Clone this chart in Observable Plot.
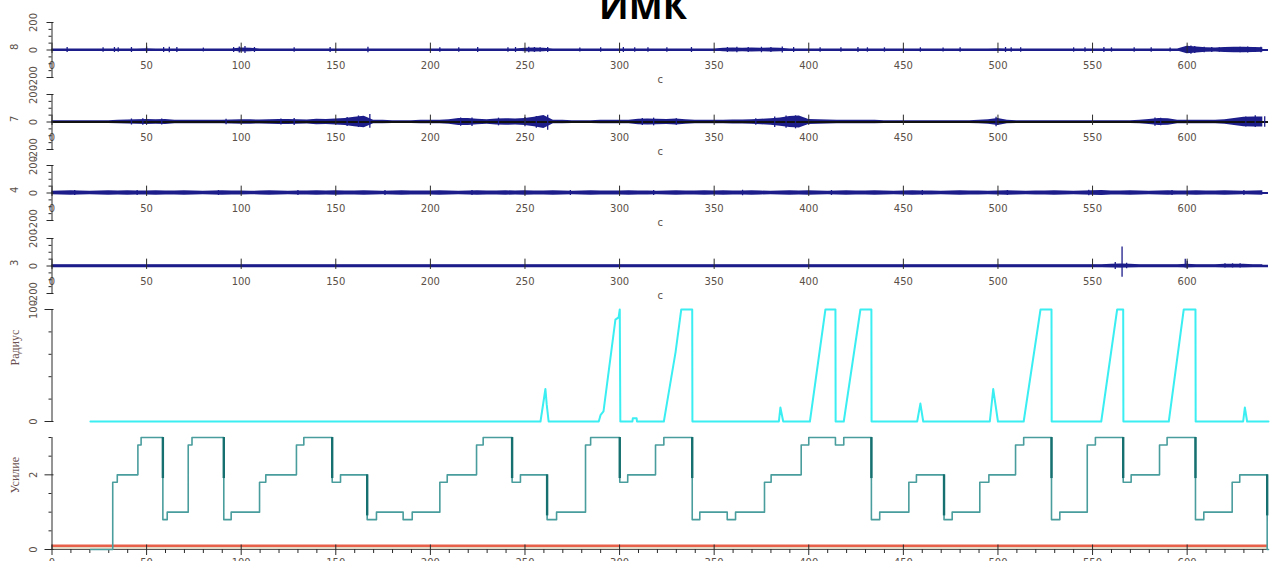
<!DOCTYPE html>
<html><head><meta charset="utf-8">
<script src="https://cdn.jsdelivr.net/npm/d3@7"></script>
<script src="https://cdn.jsdelivr.net/npm/@observablehq/plot@0.6"></script>
<style>
html,body{margin:0;padding:0;background:#fff}
body{width:1270px;height:561px;overflow:hidden;position:relative;font-family:"DejaVu Sans",sans-serif}
#title{position:absolute;left:0;width:1286px;top:-12px;text-align:center;font:bold 36px/36px "Open Sans",sans-serif;color:#000}
.panel{position:absolute;left:0}
.panel svg{overflow:visible}
</style></head><body>
<div id="title">ИМК</div>
<script>
// ---------- data ----------
const xDomain = [0, 643];
const emgXTicks = [0, 50, 100, 150, 200, 250, 300, 350, 400, 450, 500, 550, 600];
const emgYMajor = [-200, 0, 200];
const emgYMinor = [-150, -100, -50, 50, 100, 150];
const envStep = 5; // seconds between envelope samples
const channelLabels = ["8", "7", "4", "3"];

// noise envelope (half-amplitude) every 5 s, t = 0..640
const ch8Env = [
  8,8,8,8,8,8,8,8,8,8,
  10,8,8,8,8,8,8,8,8,8,
  14,12,8,8,8,8,8,8,8,8,
  8,8,8,8,8,8,8,8,8,8,
  8,8,8,8,8,8,8,8,8,8,
  12,14,12,8,8,8,8,8,8,8,
  8,8,8,8,8,8,8,8,8,8,
  8,12,14,12,14,12,14,12,8,8,
  8,8,8,8,8,8,8,8,8,8,
  8,8,8,8,8,8,8,8,8,8,
  10,8,8,8,8,8,8,8,8,8,
  8,8,8,8,8,8,8,8,8,8,
  28,22,16,14,18,20,20,18,16];
const ch7Env = [
  10,10,10,10,10,10,10,12,14,16,
  18,16,18,13,12,12,12,12,13,14,
  16,16,14,16,18,18,16,14,20,18,
  22,26,34,42,13,12,10,10,10,12,
  12,12,16,26,26,20,16,22,24,22,
  26,34,48,13,12,10,10,10,12,12,
  12,13,20,22,20,18,22,16,12,12,
  12,13,14,14,16,20,24,30,40,44,
  18,16,14,13,12,12,12,12,10,10,
  10,10,10,10,10,10,10,10,12,16,
  26,12,10,10,10,10,10,10,10,10,
  10,10,10,10,10,12,18,26,24,12,
  12,12,12,12,16,26,34,36,36];
const ch4Env = [
  12,14,16,14,12,14,16,14,16,14,
  14,16,14,14,16,14,12,14,16,14,
  14,12,14,16,14,12,14,14,16,14,
  16,14,14,16,14,12,14,16,14,14,
  14,16,14,12,14,16,14,14,16,14,
  16,14,14,16,14,12,14,16,14,14,
  14,16,14,14,12,14,16,14,14,16,
  14,16,14,14,16,14,12,14,16,14,
  16,14,12,14,16,14,14,16,14,12,
  14,16,14,14,12,14,16,14,14,12,
  14,16,14,12,14,14,16,14,12,14,
  16,18,14,14,16,14,12,14,16,14,
  14,16,14,14,16,14,12,14,16];
const ch3Env = [
  10,10,10,10,10,10,10,10,10,10,
  10,10,10,10,10,10,10,10,10,10,
  10,10,10,10,10,10,10,10,10,10,
  10,10,10,10,10,10,10,10,10,10,
  10,10,10,10,10,10,10,10,10,10,
  10,10,10,10,10,10,10,10,10,10,
  10,10,10,10,10,10,10,10,10,10,
  10,10,10,10,10,10,10,10,10,10,
  10,10,10,10,10,10,10,10,10,10,
  10,10,10,10,10,10,10,10,10,10,
  10,10,10,10,10,10,10,10,10,10,
  10,10,12,14,12,10,10,10,10,10,
  12,10,10,10,12,12,12,10,10];

// isolated bursts [t, low, high]
const ch8Spikes = [
  [8,-18,18],[27,-16,16],[33,-18,18],[35,-16,16],[42,-18,18],[50,-22,22],[59,-18,18],[62,-20,20],
  [66,-18,18],[80,-14,14],[96,-18,18],[99,-22,22],[102,-26,26],[107,-18,18],[128,-16,16],[147,-18,18],
  [167,-20,20],[205,-16,16],[215,-16,16],[225,-18,18],[241,-16,16],[245,-18,18],[252,-20,20],[255,-18,18],
  [258,-16,16],[262,-18,18],[279,-14,14],[290,-16,16],[302,-18,18],[308,-16,16],[315,-16,16],[325,-16,16],
  [338,-18,18],[357,-18,18],[362,-20,20],[368,-18,18],[375,-20,20],[380,-18,18],[386,-22,22],[392,-18,18],
  [406,-16,16],[417,-16,16],[426,-18,18],[431,-16,16],[440,-16,16],[459,-16,16],[471,-14,14],[480,-16,16],
  [504,-18,18],[507,-16,16],[512,-16,16],[540,-16,16],[546,-16,16],[556,-18,18],[560,-16,16],[572,-16,16],
  [581,-16,16],[591,-14,14],[600,-26,26],[602,-30,30],[604,-26,26],[609,-20,20],[613,-18,18],[617,-16,16],
  [624,-18,18],[628,-20,20],[632,-22,22],[636,-18,18],[639,-20,20]];
const ch7Spikes = [[42,-22,22],[48,-24,24],[58,-22,22],[92,-20,20],[121,-22,22],[128,-26,26],[156,-32,32],
  [162,-40,44],[168,-45,55],[216,-30,30],[222,-32,30],[236,-28,28],[250,-34,32],[256,-45,40],[262,-60,50],
  [312,-26,26],[318,-28,28],[330,-24,24],[372,-24,24],[382,-40,36],[388,-46,44],[393,-50,45],[499,-35,35],
  [583,-30,30],[586,-28,28],[631,-36,36],[636,-40,45],[641,-38,38]];
const ch4Spikes = [[12,-18,18],[45,-18,18],[88,-18,18],[130,-18,18],[176,-18,18],[222,-18,18],
  [274,-18,18],[318,-18,18],[365,-20,20],[412,-18,18],[460,-18,18],[505,-18,18],[548,-20,20],[592,-18,18],[630,-18,18]];
const ch3Spikes = [[562,-25,25],[565.6,-81,138],[568,-20,20],[599,-14,50],[600,-20,35],[620,-14,16],[624,-14,16],[628,-14,16]];

// Радиус (radius) trace: [t, value]
const radiusT = [20.3,258.2,260.8,261.5,262.5,289.0,290,291.5,297.8,299.5,300.1,300.4,306.8,307,309,309.2,
  323.4,325.2,329.6,332.6,338.4,338.5,384.2,385,386.5,400.6,408.8,414.1,414.2,418.5,427.3,433.1,433.2,
  457.3,459,460.5,495.7,497.5,500,513.6,522.5,528.3,528.4,554.6,563,566.2,566.3,590.3,598.2,604.4,604.5,
  629.6,630.5,631.7,643];
const radiusV = [0,0,29,15,0,0,6,9,91,93,100,0,0,3,3,0,
  0,18,62,100,100,0,0,12.5,0,0,100,100,0,0,100,100,0,
  0,16,0,0,29,0,0,100,100,0,0,100,100,0,0,100,100,0,
  0,12.5,0,0];
const radiusTicks = [0, 100];
const radiusMinor = [20, 40, 60, 80];

// Усилие (force) steps: [t, value] (step-after)
const forceT = [20.3,32.1,34.5,45.4,47.1,58.6,60.9,72.0,74.0,90.8,94.7,109.7,113.0,129.2,133.1,148.1,152.5,
  166.6,171.5,185.6,190.4,205.0,208.9,224.4,227.9,243.2,247.6,261.7,266.7,282.0,284.7,300.1,304.3,319.0,
  323.4,338.4,342.4,356.9,361.3,376.6,380.1,396.0,400.0,414.1,418.5,433.1,437.5,452.9,456.9,471.5,475.8,
  490.4,495.2,509.3,513.6,528.3,532.7,547.2,551.5,566.2,570.4,585.4,589.4,604.4,608.8,623.8,627.8,642.3,643];
const forceV = [0,1.8,2.0,2.8,3.0,0.8,1.0,2.8,3.0,0.8,1.0,1.8,2.0,2.8,3.0,1.8,2.0,
  0.8,1.0,0.8,1.0,1.8,2.0,2.8,3.0,1.8,2.0,0.8,1.0,2.8,3.0,1.8,2.0,2.8,
  3.0,0.8,1.0,0.8,1.0,1.8,2.0,2.8,3.0,2.8,3.0,0.8,1.0,1.8,2.0,0.8,1.0,
  1.8,2.0,2.8,3.0,0.8,1.0,2.8,3.0,1.8,2.0,2.8,3.0,0.8,1.0,1.8,2.0,0,0];
const forceThreshold = [0.1];
const forceBase = [0.04];
const forceTicks = [0, 2];
const forceMinor = [0.5, 1, 1.5, 2.5, 3];
const bottomMajor = [0,50,100,150,200,250,300,350,400,450,500,550,600];
const bottomMinor = d3.range(10, 643, 10).filter(v => v % 50 !== 0);

// ---------- drawing ----------
const W = 1270, ML = 51.5, MR = 2;
const NAVY = "#1c1c8a", AX = "#2a2a2a", TXT = "#5a5048";

function mount(top, node) {
  const d = document.createElement("div");
  d.className = "panel"; d.style.top = top + "px";
  d.appendChild(node); document.body.appendChild(d);
}
function frame(height, mt, mb, yDomain, marks) {
  return Plot.plot({
    width: W, height, marginLeft: ML, marginRight: MR, marginTop: mt, marginBottom: mb,
    x: {domain: xDomain, axis: null}, y: {domain: yDomain, axis: null},
    style: {fontFamily: "DejaVu Sans", fontSize: "10px", overflow: "visible", background: "transparent"},
    marks
  });
}
const noFmt = () => "";
function emg(top, height, mt, mb, label, env, spikes, black, lw) {
  const envData = env.map((a, i) => ({t: i * envStep, a}));
  const marks = [
    Plot.areaY(envData, {x: "t", y1: d => -d.a, y2: d => d.a, fill: NAVY, curve: "linear"}),
    Plot.ruleY([0], {stroke: black ? "#111" : NAVY, strokeWidth: lw}),
    Plot.ruleX(spikes, {x: d => d[0], y1: d => d[1], y2: d => d[2], stroke: NAVY, strokeWidth: 1.3}),
    Plot.ruleX(emgXTicks, {y1: -25, y2: 50, stroke: AX}),
    Plot.text(emgXTicks, {x: d => d, y: 0, dy: 15.5, text: d => String(d), fill: TXT, fontSize: 10}),
    Plot.text(["c"], {frameAnchor: "bottom", lineAnchor: "top", dy: -2, fill: TXT, fontSize: 10}),
    Plot.ruleX([0], {y1: -200, y2: 200, stroke: AX}),
    Plot.axisY(emgYMinor, {tickSize: 3, tickFormat: noFmt, stroke: AX, label: null}),
    Plot.axisY(emgYMajor, {tickSize: 7, dx: 2, tickFormat: noFmt, stroke: AX, label: null}),
    Plot.text(emgYMajor, {x: 0, y: d => d, text: d => String(d), rotate: -90, dx: -18, fill: TXT, fontSize: 10}),
    Plot.text([label], {frameAnchor: "left", dx: -37.5, rotate: -90, fill: TXT, fontSize: 10})
  ];
  mount(top, frame(height, mt, mb, [-200, 200], marks));
}

emg(0, 92, 22, 15, channelLabels[0], ch8Env, ch8Spikes, false, 2);
emg(88, 74, 6, 13, channelLabels[1], ch7Env, ch7Spikes, true, 1.8);
emg(160, 74, 5, 14, channelLabels[2], ch4Env, ch4Spikes, false, 2);
emg(232, 74, 6, 13, channelLabels[3], ch3Env, ch3Spikes, false, 2.6);

// Радиус
const radius = radiusT.map((t, i) => ({t, v: radiusV[i]}));
mount(300, frame(130, 9, 9, [0, 100], [
  Plot.ruleX([0], {y1: 0, y2: 100, stroke: AX}),
  Plot.axisY(radiusMinor, {tickSize: 3, tickFormat: noFmt, stroke: AX, label: null}),
  Plot.axisY(radiusTicks, {tickSize: 9, dx: 2, tickFormat: noFmt, stroke: AX, label: null}),
  Plot.text(radiusTicks, {x: 0, y: d => d, text: d => String(d), rotate: -90, dx: -18, fill: TXT, fontSize: 10}),
  Plot.text(["Радиус"], {frameAnchor: "left", dx: -37, rotate: -90, fill: "#6a5050", fontSize: 12, fontFamily: "Liberation Serif"}),
  Plot.line(radius, {x: "t", y: "v", stroke: "#3aeef2", strokeWidth: 2})
]));

// Усилие
const force = forceT.map((t, i) => ({t, v: forceV[i]}));
const drops = force.filter((d, i) => i > 0 && d.v < force[i - 1].v - 0.5)
  .map(d => { const p = force[force.indexOf(d) - 1].v; return {t: d.t, hi: p, lo: Math.max(d.v, p - 1.1)}; });
mount(430, frame(131, 7, 12, [0, 3], [
  Plot.ruleY(forceBase, {stroke: "#d9ccb4", strokeWidth: 1.6}),
  Plot.ruleY([0], {stroke: "#555", strokeWidth: 1}),
  Plot.ruleY(forceThreshold, {stroke: "#e8604a", strokeWidth: 2.6}),
  Plot.ruleX([0], {y1: 0, y2: 3, stroke: AX}),
  Plot.axisY(forceMinor, {tickSize: 3, tickFormat: noFmt, stroke: AX, label: null}),
  Plot.axisY(forceTicks, {tickSize: 9, dx: 2, tickFormat: noFmt, stroke: AX, label: null}),
  Plot.text(forceTicks, {x: 0, y: d => d, text: d => String(d), rotate: -90, dx: -18, fill: TXT, fontSize: 10}),
  Plot.text(["Усилие"], {frameAnchor: "left", dx: -37, rotate: -90, fill: "#6a5050", fontSize: 12, fontFamily: "Liberation Serif"}),
  Plot.axisX(bottomMinor, {tickSize: 4, tickFormat: noFmt, stroke: AX, label: null}),
  Plot.axisX(bottomMajor, {tickSize: 6, tickPadding: 3, fill: TXT, stroke: AX, fontSize: 10, label: null}),
  Plot.ruleX(bottomMajor, {y1: 0, y2: 0.12, stroke: AX}),
  Plot.line(force, {x: "t", y: "v", curve: "step-after", stroke: "#4a9d9d", strokeWidth: 1.6}),
  Plot.ruleX(drops, {x: "t", y1: "hi", y2: "lo", stroke: "#16706f", strokeWidth: 2.4})
]));
</script>
</body></html>
